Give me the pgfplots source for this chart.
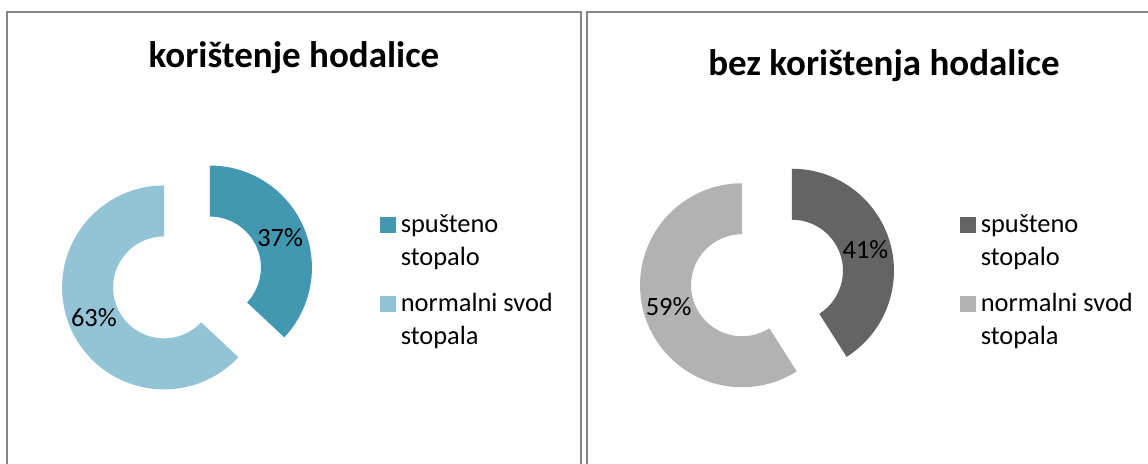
\documentclass[border=0pt]{standalone}
\usepackage{fontspec}
\setmainfont{Carlito}
\usepackage{pgfplots}
\pgfplotsset{compat=1.18}
\usepackage{pgfplotstable}
\usetikzlibrary{calc}

\definecolor{tealD}{RGB}{67,152,177}
\definecolor{tealL}{RGB}{147,196,214}
\definecolor{grayD}{RGB}{100,100,100}
\definecolor{grayL}{RGB}{178,178,178}
\definecolor{frame}{RGB}{134,134,134}

% share of feet types, with walker (A) and without walker (B)
\pgfplotstableread{
label value
spusteno 37
normalni 63
}\dataA
\pgfplotstableread{
label value
spusteno 41
normalni 59
}\dataB

\newcommand\legfont{\fontsize{13.2}{16.5}\selectfont}
\newcommand\titfont{\fontsize{18.5}{22}\selectfont\bfseries}

\pgfplotsset{
  panel/.style={
    x=0.5pt, y=0.5pt, scale only axis, disabledatascaling,
    ymin=0, ymax=464, hide axis, clip=false,
    % square beside the first line of a two-line entry
    legend image code/.code={\fill[##1] (0pt,16.5pt) rectangle (7.5pt,24pt);},
    legend style={draw=none, fill=none, inner sep=0pt, font=\legfont,
      cells={anchor=base west, align=left, inner sep=0pt},
      column sep=0.3pt, row sep=8.5pt},
  }
}

\begin{document}
\begin{tikzpicture}
\pgfplotstablegetelem{0}{value}\of\dataA \edef\vAa{\pgfplotsretval}
\pgfplotstablegetelem{1}{value}\of\dataA \edef\vAb{\pgfplotsretval}
\pgfplotstablegetelem{0}{value}\of\dataB \edef\vBa{\pgfplotsretval}
\pgfplotstablegetelem{1}{value}\of\dataB \edef\vBb{\pgfplotsretval}
% angles (clockwise from 12 o'clock)
\pgfmathsetmacro\eAa{90-3.6*\vAa}
\pgfmathsetmacro\mAa{(90+\eAa)/2}
\pgfmathsetmacro\eAb{\eAa-3.6*\vAb}
\pgfmathsetmacro\mAb{(\eAa+\eAb)/2}
\pgfmathsetmacro\eBa{90-3.6*\vBa}
\pgfmathsetmacro\mBa{(90+\eBa)/2}
\pgfmathsetmacro\eBb{\eBa-3.6*\vBb}
\pgfmathsetmacro\mBb{(\eBa+\eBb)/2}

% ---------- left panel ----------
\begin{axis}[panel, xmin=0, xmax=584, at={(0pt,0pt)}, anchor=south west,
  legend style={at={(axis cs:380,254)}, anchor=north west}]
\draw[frame, line width=1pt] (axis cs:7,-20) -- (axis cs:7,452) -- (axis cs:581,452) -- (axis cs:581,-20);
\node[font=\titfont, anchor=base] at (axis cs:294,396) {korištenje hodalice};
\fill[tealD] ($(axis cs:187,186.5)+(\mAa:25)+(90:102)$) arc[start angle=90, end angle=\eAa, radius=102]
  -- ($(axis cs:187,186.5)+(\mAa:25)+(\eAa:51)$) arc[start angle=\eAa, end angle=90, radius=51] -- cycle;
\fill[tealL] ($(axis cs:187,186.5)+(\mAb:25)+(\eAa:102)$) arc[start angle=\eAa, end angle=\eAb, radius=102]
  -- ($(axis cs:187,186.5)+(\mAb:25)+(\eAb:51)$) arc[start angle=\eAb, end angle=\eAa, radius=51] -- cycle;
\node[font=\legfont] at ($(axis cs:187,186.5)+(\mAa:101.5)$) {\vAa\%};
\node[font=\legfont] at ($(axis cs:187,186.5)+(\mAb:101.5)$) {\vAb\%};
\addlegendimage{tealD}
\addlegendentry{spušteno\\stopalo}
\addlegendimage{tealL}
\addlegendentry{normalni svod\\stopala}
\end{axis}

% ---------- right panel ----------
\begin{axis}[panel, xmin=584, xmax=1148, at={(292pt,0pt)}, anchor=south west,
  legend style={at={(axis cs:960,254)}, anchor=north west}]
\draw[frame, line width=1pt] (axis cs:587,-20) -- (axis cs:587,452) -- (axis cs:1170,452);
\node[font=\titfont, anchor=base] at (axis cs:884,388) {bez korištenja hodalice};
\fill[grayD] ($(axis cs:767,186)+(\mBa:26)+(90:102)$) arc[start angle=90, end angle=\eBa, radius=102]
  -- ($(axis cs:767,186)+(\mBa:26)+(\eBa:51)$) arc[start angle=\eBa, end angle=90, radius=51] -- cycle;
\fill[grayL] ($(axis cs:767,186)+(\mBb:26)+(\eBa:102)$) arc[start angle=\eBa, end angle=\eBb, radius=102]
  -- ($(axis cs:767,186)+(\mBb:26)+(\eBb:51)$) arc[start angle=\eBb, end angle=\eBa, radius=51] -- cycle;
\node[font=\legfont] at ($(axis cs:767,186)+(\mBa:102.5)$) {\vBa\%};
\node[font=\legfont] at ($(axis cs:767,186)+(\mBb:102.5)$) {\vBb\%};
\addlegendimage{grayD}
\addlegendentry{spušteno\\stopalo}
\addlegendimage{grayL}
\addlegendentry{normalni svod\\stopala}
\end{axis}
\pgfresetboundingbox
\useasboundingbox (0pt,0pt) rectangle (574pt,232pt);
\end{tikzpicture}
\end{document}
